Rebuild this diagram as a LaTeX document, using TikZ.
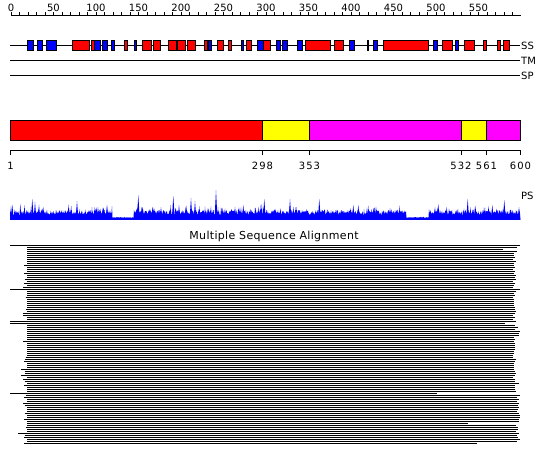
\documentclass[tikz,border=0pt]{standalone}
\usepackage{fontspec}
\setmainfont{DejaVu Sans}
\definecolor{ssred}{RGB}{255,0,0}
\definecolor{ssblue}{RGB}{0,0,255}
\definecolor{domyel}{RGB}{255,255,0}
\definecolor{dommag}{RGB}{255,0,255}
\definecolor{psblue}{RGB}{0,0,255}
\tikzset{
  lbl/.style={inner sep=0pt, font=\fontsize{10}{12}\selectfont},
  rlbl/.style={inner sep=0pt, font=\fontsize{10}{12}\selectfont\addfontfeature{LetterSpace=10}},
  trk/.style={line width=1pt},
  ssr/.style={line width=1pt, draw=black, fill=ssred},
  ssb/.style={line width=1pt, draw=black, fill=ssblue},
  dombox/.style={line width=1pt, draw=black},
  aln/.style={line width=1.1pt},
}
\begin{document}
\begin{tikzpicture}[x=1pt,y=-1pt]
\useasboundingbox (0,0) rectangle (550,465);
% top ruler
\draw[trk] (11,15.5) -- (521,15.5);
\foreach \u in {0,10,...,590} \draw[trk] ({11+0.85*\u},15.5) -- ({11+0.85*\u},12);
\foreach \u in {0,50,...,550} \node[lbl] (t\u) at ({11+0.85*\u},7.5) {\u};
% tracks
\draw[trk] (10,45.5) -- (520,45.5);
\draw[trk] (10,60.5) -- (520,60.5);
\draw[trk] (10,75.5) -- (520,75.5);
\node[lbl, anchor=west] (ss) at (521,45.5) {SS};
\node[lbl, anchor=west] (tm) at (521,60.5) {TM};
\node[lbl, anchor=west] (sp) at (521,75.5) {SP};
\foreach \a/\b/\c in {27.3/33.7/ssb, 37.3/42.7/ssb, 46.3/56.3/ssb, 72.3/89.3/ssr, 91/94/ssr,
  94/100.3/ssb, 102.3/107.7/ssb, 111.3/114.3/ssb, 124/127.3/ssr, 134/136.3/ssb,
  142.3/151.7/ssr, 153.3/160/ssr, 168.3/176/ssr, 177.3/185.3/ssr, 187.3/195.3/ssr,
  204/207.3/ssr, 208.7/211.3/ssb, 217/223.3/ssr, 228/231.3/ssr, 241/243.3/ssb,
  246/251.3/ssr, 257.3/263.3/ssb, 263.3/270/ssr, 276/280/ssb, 282.3/287.3/ssb,
  297.3/302.3/ssb, 305.7/330.3/ssr, 334.3/343.7/ssr, 349/354.7/ssb, 367.3/368.3/ssb,
  373.7/377.3/ssb, 383.3/428.3/ssr, 433.3/437.3/ssb, 442.3/452.7/ssr, 455/458.7/ssb,
  464.3/474.3/ssr, 483.3/486.7/ssr, 497.3/500.7/ssr, 503.3/509.3/ssr}
  \filldraw[\c] (\a,40.5) rectangle (\b,50.5);
% domain bar
\filldraw[dombox, fill=ssred] (10.5,120.5) rectangle (262.5,140.5);
\filldraw[dombox, fill=domyel] (262.5,120.5) rectangle (309.5,140.5);
\filldraw[dombox, fill=dommag] (309.5,120.5) rectangle (461,140.5);
\filldraw[dombox, fill=domyel] (461,120.5) rectangle (486.5,140.5);
\filldraw[dombox, fill=dommag] (486.5,120.5) rectangle (520.5,140.5);
% bottom ruler
\draw[trk] (10.5,150.5) -- (520.5,150.5);
\foreach \p/\t in {10.5/1, 262.5/298, 309.5/353, 461/532, 486.5/561, 520.5/600} {
  \draw[trk] (\p,150.5) -- (\p,155.5);
  \node[rlbl] (r\t) at (\p,165.5) {\t};
}
% PS profile
\pgfmathsetseed{11}
\fill[psblue] (10,220) foreach \x in {10,10.5,...,520} {
  -- (\x,{220-1.5-(1-0.85*((\x>112)*(\x<134)+(\x>406)*(\x<429)))*(3.5+5*rnd+(rnd>0.8)*6*rnd)})
} -- (520,220) -- cycle;
\foreach \px/\ph in {12.3/15, 32.3/21, 35/18, 39/15, 43/12, 70/12, 77/19, 98/13, 107/15,
  138.3/25, 141.7/13, 161/13, 173.3/24, 179/15, 185.7/13, 191/22, 195/19, 208/12,
  216/30, 222.7/12, 235/13, 243.3/15, 250.7/11, 258.7/13, 264.3/21, 290/21, 306.7/11,
  319.3/21, 336.7/10, 353.3/15, 358.3/15, 371.7/11, 390/12, 438.3/16, 446.7/13,
  467.7/21, 475/13, 492.3/15, 504.3/20, 519/13}
  \fill[psblue] ({\px-1.5},220) -- (\px,{220-\ph}) -- ({\px+1.5},220) -- cycle;
\node[lbl, anchor=west] (ps) at (521,196) {PS};
% MSA
\node[lbl, font=\fontsize{11}{13}\selectfont\addfontfeature{LetterSpace=3}] (msa) at (274,236) {Multiple Sequence Alignment};
\pgfmathsetseed{5}
\foreach \i in {1,3,4,...,21,23,24,...,37,40,41,42,44,45,...,61,63,64,66,67,...,73,75,76,...,88,90,91,92,93,95,96,97,98} {
  \pgfmathsetmacro\s{27-(rnd<0.25)*(1+3*rnd)}
  \pgfmathsetmacro\e{ifthenelse(\i<75, 513+3*rnd+(rnd<0.12)*4, 516+4*rnd)}
  \draw[aln] (\s,{245.5+2*\i}) -- (\e,{245.5+2*\i});
}
\foreach \i/\s/\e in {0/10/520, 2/27/503, 22/10/520, 38/10/516, 39/10/505, 43/27/520,
  62/21/514, 65/21/515, 74/10/437, 89/27/468, 94/18/519, 99/24/477}
  \draw[aln] (\s,{245.5+2*\i}) -- (\e,{245.5+2*\i});
\end{tikzpicture}
\end{document}
